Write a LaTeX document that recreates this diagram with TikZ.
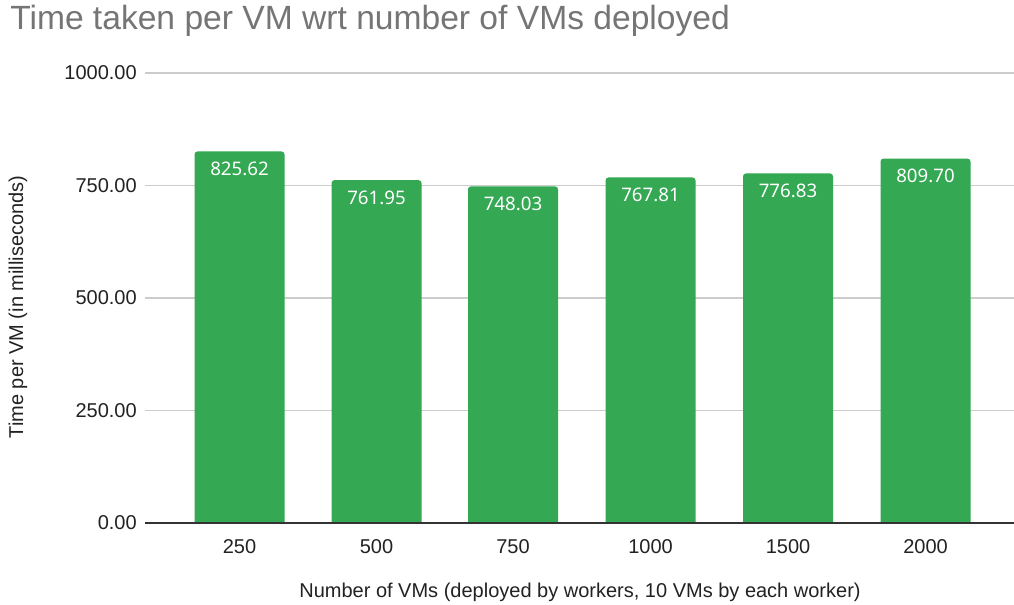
\documentclass[tikz,border=0pt]{standalone}
\usepackage{fontspec}
\setmainfont{Liberation Sans}
\newfontfamily\barfont{Noto Sans}
\definecolor{bargreen}{HTML}{34A853}
\definecolor{gridgray}{HTML}{CCCCCC}
\definecolor{titlegray}{HTML}{757575}
\definecolor{axisdark}{HTML}{333333}
\definecolor{txt}{HTML}{222222}
\begin{document}
\begin{tikzpicture}[x=0.75pt,y=-0.75pt,
  gridline/.style={draw=gridgray,line width=1pt},
  axisline/.style={draw=axisdark,line width=1.1pt},
  ticklabel/.style={anchor=east,inner sep=0pt,font=\fontsize{15}{18}\selectfont,text=txt},
  catlabel/.style={anchor=center,inner sep=0pt,font=\fontsize{15}{18}\selectfont,text=txt},
  barbox/.style={fill=bargreen,draw=none,rounded corners=2.2pt},
  barlabel/.style={anchor=center,inner sep=0pt,text=white,font=\barfont\fontsize{14}{17}\selectfont}]
\useasboundingbox[fill=white] (0,0) rectangle (1014,605);
% title
\node[anchor=west,inner sep=0pt,text=titlegray,font=\fontsize{25.2}{30}\selectfont] (title) at (10,21) {Time taken per VM wrt number of VMs deployed};
% grid
\foreach \v/\lab in {0/0.00,250/250.00,500/500.00,750/750.00,1000/1000.00}{
  \pgfmathsetmacro{\yy}{523-0.45*\v}
  \node[ticklabel] (t\v) at (137,\yy) {\lab};
  \ifnum\v>0
    \draw[gridline] (145,\yy) -- (1014,\yy);
  \fi
}
% bars
\foreach \cx/\val/\cat [count=\i] in {239.5/825.62/250,376.5/761.95/500,513/748.03/750,650.5/767.81/1000,788/776.83/1500,925.5/809.70/2000}{
  \pgfmathsetmacro{\top}{523-0.45*\val}
  \begin{scope}
    \clip (\cx-45,\top-1) rectangle (\cx+45,523);
    \fill[barbox] (\cx-45,\top) rectangle (\cx+45,530);
  \end{scope}
  \node[barlabel] (b\i) at (\cx,\top+17.5) {\val};
  \node[catlabel] (c\i) at (\cx,547) {\cat};
}
\draw[axisline] (145,523) -- (1014,523);
% axis titles
\node[catlabel] (xtitle) at (580,592) {Number of VMs (deployed by workers, 10 VMs by each worker)};
\node[catlabel,rotate=90] (ytitle) at (18,307) {Time per VM (in milliseconds)};
\end{tikzpicture}
\end{document}
